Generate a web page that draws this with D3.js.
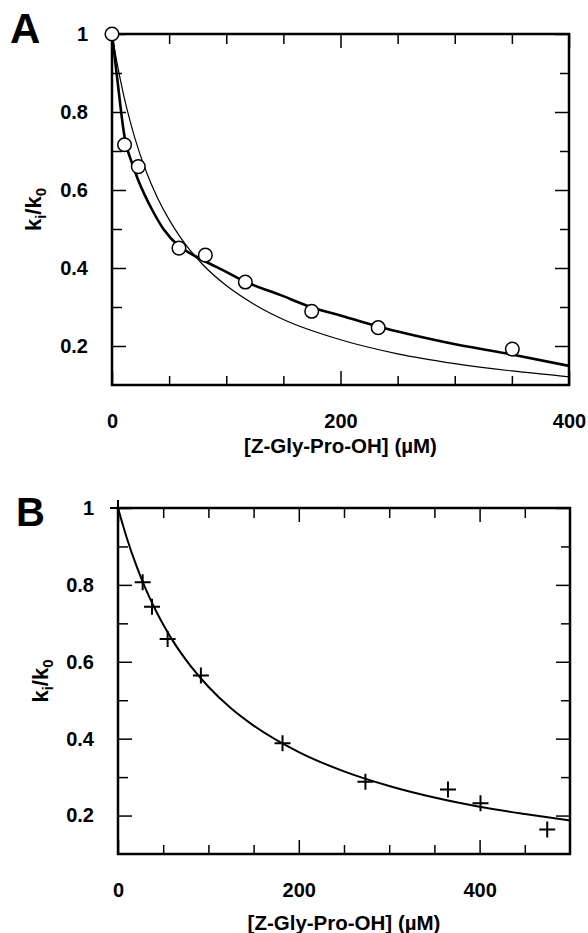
<!DOCTYPE html>
<html>
<head>
<meta charset="utf-8">
<script src="https://cdn.jsdelivr.net/npm/d3@7"></script>
<style>
  body { margin: 0; background: #fff; }
  svg text { font-family: "Liberation Sans", Arial, sans-serif; font-weight: bold; }
</style>
</head>
<body>
<div id="chart"></div>
<script>
// Panel A: measured points (open circles)
const concA = [0, 11, 23, 58.6, 81.7, 116.7, 174.8, 233, 350.4];
const ratioA = [1.0, 0.716, 0.66, 0.451, 0.433, 0.364, 0.289, 0.247, 0.192];

// Panel A: thick fitted curve
const thickXA = [0, 1, 2, 4, 6, 8, 10, 12, 15, 18, 23, 29, 35, 45, 59, 70, 81, 100, 116, 147, 176, 205, 233, 293, 350, 400];
const thickYA = [1, 0.975, 0.95, 0.90, 0.85, 0.80, 0.755, 0.72, 0.69, 0.665, 0.625, 0.585, 0.55, 0.50, 0.455, 0.435, 0.418, 0.39, 0.366, 0.331, 0.298, 0.274, 0.250, 0.209, 0.178, 0.149];

// Panel A: thin fitted curve
const thinXA = [0, 2, 5, 10, 15, 20, 30, 40, 50, 60, 80, 100, 125, 150, 200, 250, 300, 350, 400];
const thinYA = [1, 0.965, 0.917, 0.846, 0.786, 0.733, 0.647, 0.579, 0.524, 0.478, 0.407, 0.355, 0.306, 0.268, 0.216, 0.180, 0.155, 0.136, 0.121];

// Panel B: measured points (crosses)
const concB = [27.3, 37.6, 54.9, 91.7, 182, 273.7, 365, 401, 474.8];
const ratioB = [0.807, 0.743, 0.659, 0.564, 0.388, 0.288, 0.268, 0.232, 0.164];

// Panel B: fitted curve
const fitXB = [0, 10, 20, 30, 40, 50, 60, 80, 100, 125, 150, 200, 250, 300, 350, 400, 450, 500];
const fitYB = [1, 0.92, 0.852, 0.793, 0.742, 0.697, 0.657, 0.590, 0.535, 0.479, 0.434, 0.365, 0.315, 0.277, 0.247, 0.223, 0.204, 0.187];

// ticks
const yMajor = [0.2, 0.4, 0.6, 0.8, 1];
const yMinor = [0.3, 0.5, 0.7, 0.9];
const xMajor = [0, 200, 400];
const xMinorA = [50, 100, 150, 250, 300, 350];
const xMinorB = [50, 100, 150, 250, 300, 350, 450];
const xTitle = '[Z-Gly-Pro-OH] (µM)';

const width = 588;
const height = 933;
const FONT = '"Liberation Sans", Arial, sans-serif';

const svg = d3.select('#chart')
  .append('svg')
  .attr('width', width)
  .attr('height', height);

function addAxis(g, axis, transform, values, size, format, padding) {
  const a = g.append('g')
    .attr('transform', transform)
    .call(axis.tickValues(values).tickSize(-size).tickPadding(padding).tickFormat(format));
  a.select('.domain').remove();
  a.selectAll('line').attr('stroke', '#000').attr('stroke-width', 1.5);
  a.selectAll('text')
    .attr('font-size', 20)
    .attr('font-family', FONT)
    .attr('font-weight', 'bold')
    .attr('fill', '#000');
  return a;
}

const yFmt = d => d === 1 ? '1' : d3.format('.1f')(d);
const noLabel = () => '';

function drawPanel(p) {
  const x = d3.scaleLinear().domain(p.xDomain).range([p.left, p.right]);
  const y = d3.scaleLinear().domain([0.1, 1]).range([p.bottom, p.top]);
  const g = svg.append('g');

  // inward ticks on all four sides
  addAxis(g, d3.axisLeft(y), `translate(${p.left},0)`, yMajor, 14, yFmt, 24);
  addAxis(g, d3.axisLeft(y), `translate(${p.left},0)`, yMinor, 10, noLabel, 0);
  addAxis(g, d3.axisRight(y), `translate(${p.right},0)`, yMajor, 14, noLabel, 0);
  addAxis(g, d3.axisRight(y), `translate(${p.right},0)`, yMinor, 9, noLabel, 0);
  addAxis(g, d3.axisBottom(x), `translate(0,${p.bottom})`, xMajor, 14, d3.format('d'), 29);
  addAxis(g, d3.axisBottom(x), `translate(0,${p.bottom})`, p.xMinor, 9, noLabel, 0);
  addAxis(g, d3.axisTop(x), `translate(0,${p.top})`, xMajor, 14, noLabel, 0);
  addAxis(g, d3.axisTop(x), `translate(0,${p.top})`, p.xMinor, 10, noLabel, 0);

  // frame
  g.append('rect')
    .attr('x', p.left).attr('y', p.top)
    .attr('width', p.right - p.left).attr('height', p.bottom - p.top)
    .attr('fill', 'none')
    .attr('stroke', '#000')
    .attr('stroke-width', 2.5);

  // fitted curves
  const line = d3.line()
    .x(d => x(d[0]))
    .y(d => y(d[1]))
    .curve(d3.curveMonotoneX);

  p.curves.forEach(c => {
    g.append('path')
      .datum(d3.zip(c.xs, c.ys))
      .attr('d', line)
      .attr('fill', 'none')
      .attr('stroke', '#000')
      .attr('stroke-width', c.w);
  });

  // data points
  const pts = d3.zip(p.px, p.py);
  if (p.marker === 'circle') {
    g.selectAll('.pt')
      .data(pts)
      .join('circle')
      .attr('cx', d => x(d[0]))
      .attr('cy', d => y(d[1]))
      .attr('r', 6.8)
      .attr('fill', '#fff')
      .attr('stroke', '#000')
      .attr('stroke-width', 1.5);
  } else {
    g.selectAll('.pt')
      .data(pts)
      .join('path')
      .attr('transform', d => `translate(${x(d[0])},${y(d[1])})`)
      .attr('d', 'M-8,0H8M0,-8V8')
      .attr('stroke', '#000')
      .attr('stroke-width', 2);
  }

  // x title
  g.append('text')
    .attr('x', (p.left + p.right) / 2)
    .attr('y', p.titleY)
    .attr('text-anchor', 'middle')
    .attr('font-size', 20.5)
    .text(xTitle);

  // y title k_i/k_0
  const yl = g.append('text')
    .attr('transform', `translate(${p.yLabelX},${(p.top + p.bottom) / 2 + p.yLabelShift}) rotate(-90)`)
    .attr('text-anchor', 'middle')
    .attr('font-size', 22);
  yl.append('tspan').text('k');
  yl.append('tspan').attr('font-size', 15).attr('dy', 5).text('i');
  yl.append('tspan').attr('dy', -5).text('/k');
  yl.append('tspan').attr('font-size', 15).attr('dy', 5).text('0');

  // panel letter
  g.append('text')
    .attr('x', p.letterX)
    .attr('y', p.letterY)
    .attr('font-size', p.letterSize)
    .text(p.letter);

  return { x, y, g };
}

drawPanel({
  letter: 'A', letterX: 10, letterY: 43, letterSize: 42,
  left: 112, right: 569, top: 34, bottom: 385,
  xDomain: [0, 400], xMinor: xMinorA,
  titleY: 453, yLabelX: 41, yLabelShift: 0,
  marker: 'circle', px: concA, py: ratioA,
  curves: [
    { xs: thinXA, ys: thinYA, w: 1.2 },
    { xs: thickXA, ys: thickYA, w: 2.6 }
  ]
});

const panelB = drawPanel({
  letter: 'B', letterX: 16, letterY: 526, letterSize: 40,
  left: 118, right: 570, top: 508, bottom: 854,
  xDomain: [0, 500], xMinor: xMinorB,
  titleY: 930, yLabelX: 48, yLabelShift: 0,
  marker: 'cross', px: concB, py: ratioB,
  curves: [
    { xs: fitXB, ys: fitYB, w: 2 }
  ]
});

// small overshoot of the frame at B's top-left corner
panelB.g.append('path')
  .attr('d', 'M110,508H118M118,500V508')
  .attr('stroke', '#000')
  .attr('stroke-width', 2);
</script>
</body>
</html>
